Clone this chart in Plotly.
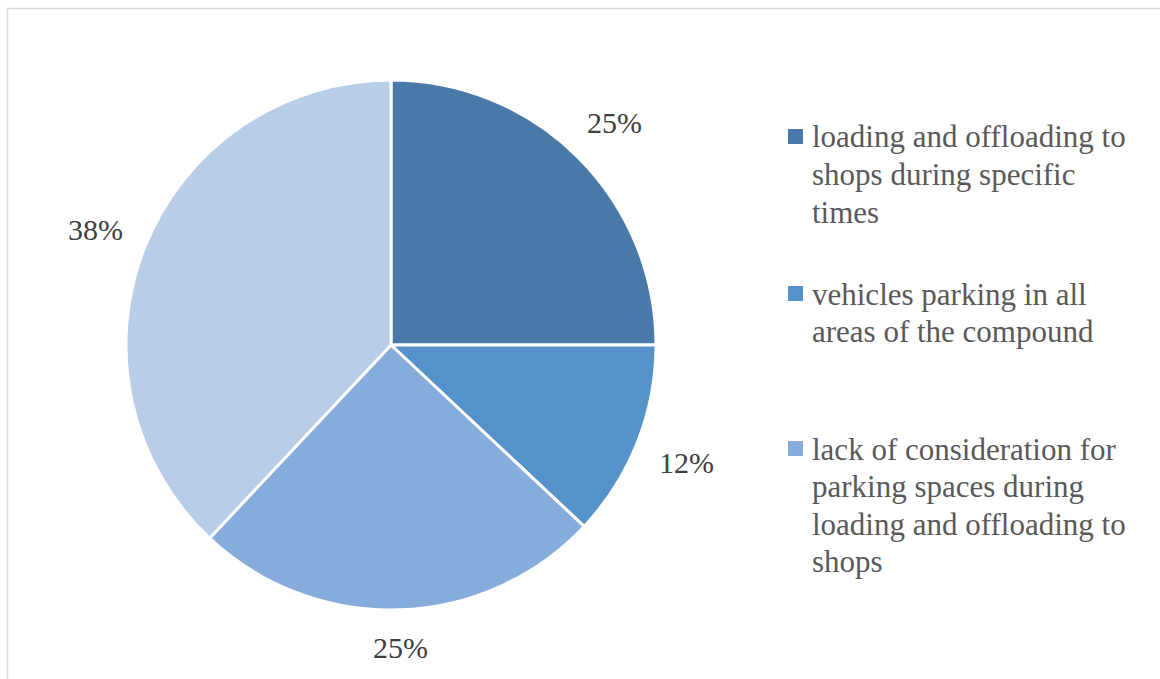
import math
import plotly.graph_objects as go

# Survey shares (%) by parking issue, clockwise from 12 o'clock
categories = [
    "loading and offloading to shops during specific times",
    "vehicles parking in all areas of the compound",
    "lack of consideration for parking spaces during loading and offloading to shops",
    "other",
]
values = [25, 12, 25, 38]
colors = ["#4879A9", "#5592C9", "#86ACDB", "#B9CDE8"]

# Wrapped legend text for the three listed categories
legend_lines = [
    ["loading and offloading to", "shops during specific", "times"],
    ["vehicles parking in all", "areas of the compound"],
    ["lack of consideration for", "parking spaces during", "loading and offloading to", "shops"],
]
legend_tops = [129, 286, 441]

W, H = 1160, 679
cx, cy, R = 391, 345, 265

fig = go.Figure()
fig.add_trace(go.Pie(
    labels=categories,
    values=values,
    sort=False,
    direction="clockwise",
    rotation=0,
    marker=dict(colors=colors, line=dict(color="white", width=3)),
    textinfo="none",
    hoverinfo="label+percent",
    showlegend=False,
    domain=dict(x=[(cx - R) / W, (cx + R) / W],
                y=[(H - (cy + R)) / H, (H - (cy - R)) / H]),
))

annotations = []
# Percentage labels placed just outside each slice's mid-angle
total = sum(values)
cum = 0
hw, hh, gap = 28, 15, 21
for v in values:
    mid = (cum + v / 2) / total * 2 * math.pi
    cum += v
    s, c = math.sin(mid), math.cos(mid)
    r = R + gap + abs(s) * hw + abs(c) * hh
    px = cx + r * s
    py = cy - r * c + 1
    annotations.append(dict(
        x=px / W, y=1 - py / H, xref="paper", yref="paper",
        text=f"{round(v / total * 100)}%", showarrow=False,
        xanchor="center", yanchor="middle",
        font=dict(family="Liberation Serif", size=30, color="#404040"),
    ))

shapes = []
line_h = 37.5
for i, (lines, top) in enumerate(zip(legend_lines, legend_tops)):
    shapes.append(dict(
        type="rect", xref="paper", yref="paper",
        x0=788 / W, x1=803 / W, y0=1 - (top + 15) / H, y1=1 - top / H,
        fillcolor=colors[i], line=dict(width=0),
    ))
    for j, ln in enumerate(lines):
        yc = top + 8 + j * line_h
        annotations.append(dict(
            x=810 / W, y=1 - yc / H, xref="paper", yref="paper",
            text=ln, showarrow=False, xanchor="left", yanchor="middle",
            font=dict(family="Liberation Serif", size=31, color="#595959"),
        ))

# Chart area frame
shapes.append(dict(
    type="rect", xref="paper", yref="paper",
    x0=7.5 / W, x1=1.02, y0=-0.02, y1=1 - 8.5 / H,
    line=dict(color="#D9D9D9", width=1.5), fillcolor="rgba(0,0,0,0)",
    layer="below",
))

fig.update_layout(
    width=W, height=H,
    margin=dict(l=0, r=0, t=0, b=0),
    paper_bgcolor="white", plot_bgcolor="white",
    annotations=annotations, shapes=shapes,
)

fig.write_html("out.html")
